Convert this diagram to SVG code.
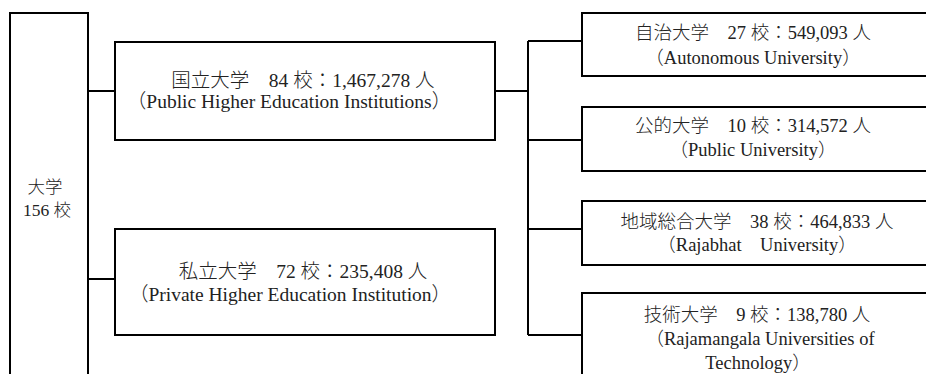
<svg xmlns="http://www.w3.org/2000/svg" width="926" height="374" viewBox="0 0 926 374">
<style>
  .box { fill: #ffffff; stroke: #000000; stroke-width: 2; }
  .ln { fill: none; stroke: #000000; stroke-width: 2; }
  text { font-family: "Liberation Serif", "Noto Sans CJK JP", serif; font-size: 18.5px; font-weight: 300; fill: #222222; text-anchor: middle; }
  .m { font-size: 19.5px; }
  .r { font-size: 17.5px; }
</style>
<rect width="926" height="374" fill="#ffffff"/>
<g id="connectors">
  <path class="ln" d="M88,91 H115 M88,279 H115"/>
  <path class="ln" d="M495,91 H528 M528,41 V335 M528,41 H582 M528,140 H582 M528,229 H582 M528,335 H582"/>
</g>
<g id="root">
  <path class="ln" d="M10,380 V13 H88 V380"/>
  <text class="r" x="45" y="193">大学</text>
  <text class="r" x="47" y="216">156 校</text>
</g>
<g id="national">
  <rect class="box" x="115" y="42" width="380" height="98"/>
  <text class="m" x="303" y="87">国立大学　84 校：1,467,278 人</text>
  <text class="m" x="289" y="108">（Public Higher Education Institutions）</text>
</g>
<g id="private">
  <rect class="box" x="115" y="229" width="380" height="106"/>
  <text class="m" x="303" y="278">私立大学　72 校：235,408 人</text>
  <text class="m" x="290" y="301">（Private Higher Education Institution）</text>
</g>
<g id="autonomous">
  <rect class="box" x="582" y="13" width="360" height="63"/>
  <text x="753" y="39">自治大学　27 校：549,093 人</text>
  <text x="753" y="64">（Autonomous University）</text>
</g>
<g id="public">
  <rect class="box" x="582" y="107" width="360" height="64"/>
  <text x="753" y="132">公的大学　10 校：314,572 人</text>
  <text x="753" y="156">（Public University）</text>
</g>
<g id="rajabhat">
  <rect class="box" x="582" y="201" width="360" height="64"/>
  <text x="757" y="228">地域総合大学　38 校：464,833 人</text>
  <text x="757" y="251">（Rajabhat　University）</text>
</g>
<g id="technology">
  <rect class="box" x="582" y="293" width="360" height="100"/>
  <text x="757" y="321">技術大学　9 校：138,780 人</text>
  <text x="760" y="345">（Rajamangala Universities of</text>
  <text x="758" y="369">Technology）</text>
</g>
</svg>
